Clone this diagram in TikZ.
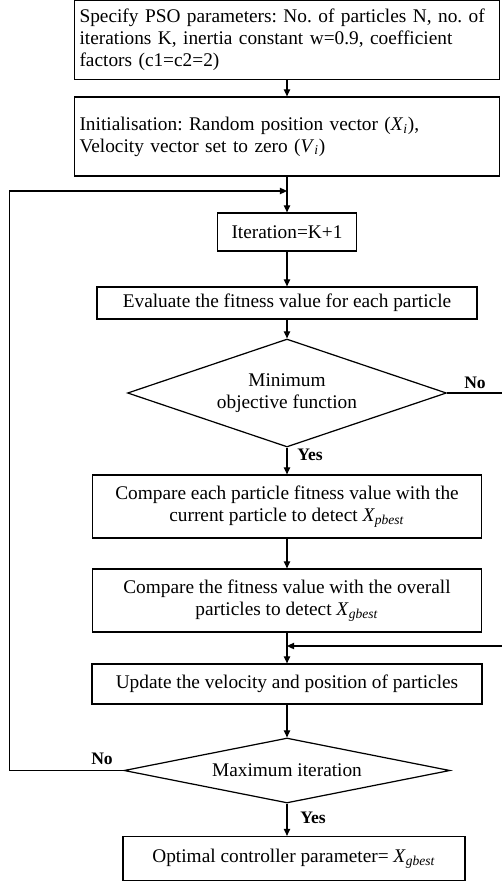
\documentclass[tikz,border=0pt]{standalone}
\usepackage{fontspec}
\setmainfont{Liberation Serif}
\usetikzlibrary{arrows.meta,shapes.geometric}
\newcommand{\vsub}[2]{\textit{#1}\textsubscript{\textit{#2}}}

\begin{document}
\begin{tikzpicture}[x=0.02cm, y=-0.02cm,
  font=\fontsize{11}{12.4}\selectfont\frenchspacing,
  box/.style={draw, line width=0.7pt, inner sep=0pt},
  wide/.style={box, minimum width=8.5cm, minimum height=1.58cm, text width=8.3cm,
    inner xsep=0.1cm, align=left},
  decision/.style={draw, diamond, line width=0.7pt, inner sep=0pt, aspect=3},
  flow/.style={-{Triangle[length=4pt,width=3.6pt]}, line width=0.7pt},
  lbl/.style={font=\fontsize{10}{11}\selectfont\bfseries}]

\useasboundingbox (0,0) rectangle (501,882);

% process steps
\node[wide] (spec) at (287,40)
  {Specify PSO parameters: No. of particles N, no. of\\
   iterations K, inertia constant w=0.9, coefficient\\
   factors (c1=c2=2)};
\node[wide] (init) at (287,136.5)
  {Initialisation: Random position vector (\vsub{X}{i}),\\
   Velocity vector set to zero (\vsub{V}{i})};
\node[box, minimum width=2.78cm, minimum height=0.76cm] (iter) at (287,232) {Iteration=K+1};
\node[box, minimum width=7.6cm, minimum height=0.64cm] (eval) at (287,303)
  {Evaluate the fitness value for each particle};
\node[decision, minimum width=6.38cm, minimum height=2.16cm, align=center] (minobj) at (287,393)
  {Minimum\\objective function};
\node[box, minimum width=7.78cm, minimum height=1.26cm, align=center] (pbest) at (287,506.5)
  {Compare each particle fitness value with the\\
   current particle to detect \vsub{X}{pbest}};
\node[box, minimum width=7.78cm, minimum height=1.26cm, align=center] (gbest) at (287,600.5)
  {Compare the fitness value with the overall\\
   particles to detect \vsub{X}{gbest}};
\node[box, minimum width=7.8cm, minimum height=0.8cm] (update) at (287,684)
  {Update the velocity and position of particles};
\node[decision, minimum width=6.52cm, minimum height=1.3cm] (maxit) at (287,770.5)
  {Maximum iteration};
\node[box, minimum width=6.84cm, minimum height=0.88cm] (result) at (294,858.5)
  {Optimal controller parameter= \vsub{X}{gbest}};

% junctions of the loops
\coordinate (loopin) at (287,191);
\coordinate (backin) at (287,646);

% main flow
\draw[flow] (spec) -- (init);
\draw[flow] (init) -- (iter);
\draw[flow] (iter) -- (eval);
\draw[flow] (eval) -- (minobj);
\draw[flow] (minobj) -- (pbest);
\draw[flow] (pbest) -- (gbest);
\draw[flow] (gbest) -- (update);
\draw[flow] (update) -- (maxit);
\draw[flow] (maxit.south) -- (maxit.south |- result.north);

% loops
\draw[flow] (maxit.west) -- ++(-114,0) |- (loopin);
\draw[flow] (minobj.east) -- ++(57,0) |- (backin);

% labels
\node[lbl] (no1) at (475,383) {No};
\node[lbl] (yes1) at (310,455) {Yes};
\node[lbl] (no2) at (102,759) {No};
\node[lbl] (yes2) at (313,818) {Yes};

\end{tikzpicture}
\end{document}
